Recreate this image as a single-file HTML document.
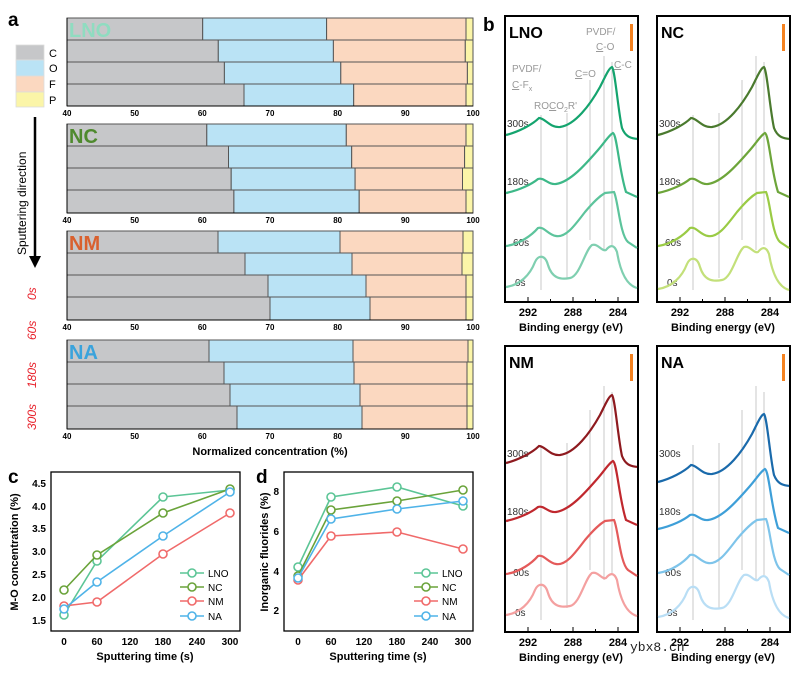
<!DOCTYPE html>
<html><head><meta charset="utf-8"><style>
html,body{margin:0;padding:0;background:#fff}
svg{display:block;font-family:"Liberation Sans",Arial,sans-serif}
</style></head><body>
<svg width="808" height="675" viewBox="0 0 808 675" xmlns="http://www.w3.org/2000/svg">
<defs>
<path id="s0" d="M506,287 C520,285 530,275 535,262 C538,255 545,254 548,265 C552,278 560,280 570,278 C580,276 585,250 592,245 C598,243 602,252 606,250 C610,245 614,244 617,252 C620,270 626,285 637,288" fill="none" stroke-width="2.2"/>
<path id="s60" d="M506,246 C520,244 532,235 538,228 C544,226 548,235 556,236 C566,238 575,225 585,212 C595,200 600,196 605,193 L614,192 C618,200 620,235 628,242 L637,248" fill="none" stroke-width="2.2"/>
<path id="s180" d="M506,193 C520,190 532,184 538,179 C544,177 548,185 556,184 C570,182 585,165 598,150 C605,142 609,135 613,133 C617,135 619,170 626,192 L637,197" fill="none" stroke-width="2.2"/>
<path id="s300" d="M506,135 C518,132 532,125 539,118 C545,118 550,128 560,127 C575,125 590,105 600,87 C606,75 609,68 612,67 C615,70 618,110 622,128 C626,138 632,138 637,139" fill="none" stroke-width="2.2"/>
</defs>

<!-- Panel a -->
<text x="8" y="26" font-size="19" font-weight="bold">a</text>
<g stroke="#ddd" stroke-width="0.8">
<rect x="16" y="45" width="28" height="15" fill="#c6c7c9"/>
<rect x="16" y="60" width="28" height="16" fill="#bae3f5"/>
<rect x="16" y="76" width="28" height="16" fill="#fbd8c0"/>
<rect x="16" y="92" width="28" height="15" fill="#fbf5a8"/>
</g>
<g font-size="11"><text x="49" y="57">C</text><text x="49" y="72">O</text><text x="49" y="88">F</text><text x="49" y="104">P</text></g>
<text transform="translate(26,255) rotate(-90)" font-size="12">Sputtering direction</text>
<line x1="35" y1="117" x2="35" y2="258" stroke="#000" stroke-width="2.5"/>
<polygon points="29,256 41,256 35,268" fill="#000"/>
<g fill="#e8202a" font-size="12" font-style="italic">
<text transform="translate(36,300) rotate(-90)">0s</text>
<text transform="translate(36,340) rotate(-90)">60s</text>
<text transform="translate(36,388) rotate(-90)">180s</text>
<text transform="translate(36,430) rotate(-90)">300s</text>
</g>

<g id="bars" stroke="#555" stroke-width="1">
<!-- block1 LNO y=18 -->
<g>
<rect x="67" y="18" width="135.7" height="22" fill="#c6c7c9"/><rect x="202.7" y="18" width="123.9" height="22" fill="#bae3f5"/><rect x="326.6" y="18" width="139.4" height="22" fill="#fbd8c0"/><rect x="466" y="18" width="7" height="22" fill="#fbf5a8"/>
<rect x="67" y="40" width="151.3" height="22" fill="#c6c7c9"/><rect x="218.3" y="40" width="115.1" height="22" fill="#bae3f5"/><rect x="333.4" y="40" width="131.9" height="22" fill="#fbd8c0"/><rect x="465.3" y="40" width="7.7" height="22" fill="#fbf5a8"/>
<rect x="67" y="62" width="157.4" height="22" fill="#c6c7c9"/><rect x="224.4" y="62" width="116.4" height="22" fill="#bae3f5"/><rect x="340.8" y="62" width="126.6" height="22" fill="#fbd8c0"/><rect x="467.4" y="62" width="5.6" height="22" fill="#fbf5a8"/>
<rect x="67" y="84" width="177" height="22" fill="#c6c7c9"/><rect x="244" y="84" width="109.7" height="22" fill="#bae3f5"/><rect x="353.7" y="84" width="112.3" height="22" fill="#fbd8c0"/><rect x="466" y="84" width="7" height="22" fill="#fbf5a8"/>
</g>
<!-- block2 NC y=124 -->
<g>
<rect x="67" y="124" width="139.8" height="22" fill="#c6c7c9"/><rect x="206.8" y="124" width="139.5" height="22" fill="#bae3f5"/><rect x="346.3" y="124" width="119.7" height="22" fill="#fbd8c0"/><rect x="466" y="124" width="7" height="22" fill="#fbf5a8"/>
<rect x="67" y="146" width="161.5" height="22" fill="#c6c7c9"/><rect x="228.5" y="146" width="123.2" height="22" fill="#bae3f5"/><rect x="351.7" y="146" width="112.9" height="22" fill="#fbd8c0"/><rect x="464.6" y="146" width="8.4" height="22" fill="#fbf5a8"/>
<rect x="67" y="168" width="164.2" height="22" fill="#c6c7c9"/><rect x="231.2" y="168" width="123.9" height="22" fill="#bae3f5"/><rect x="355.1" y="168" width="107.4" height="22" fill="#fbd8c0"/><rect x="462.5" y="168" width="10.5" height="22" fill="#fbf5a8"/>
<rect x="67" y="190" width="166.9" height="23" fill="#c6c7c9"/><rect x="233.9" y="190" width="125.3" height="23" fill="#bae3f5"/><rect x="359.2" y="190" width="106.8" height="23" fill="#fbd8c0"/><rect x="466" y="190" width="7" height="23" fill="#fbf5a8"/>
</g>
<!-- block3 NM y=231 -->
<g>
<rect x="67" y="231" width="151" height="22" fill="#c6c7c9"/><rect x="218" y="231" width="122" height="22" fill="#bae3f5"/><rect x="340" y="231" width="123" height="22" fill="#fbd8c0"/><rect x="463" y="231" width="10" height="22" fill="#fbf5a8"/>
<rect x="67" y="253" width="178" height="22" fill="#c6c7c9"/><rect x="245" y="253" width="107" height="22" fill="#bae3f5"/><rect x="352" y="253" width="110" height="22" fill="#fbd8c0"/><rect x="462" y="253" width="11" height="22" fill="#fbf5a8"/>
<rect x="67" y="275" width="201" height="22" fill="#c6c7c9"/><rect x="268" y="275" width="98" height="22" fill="#bae3f5"/><rect x="366" y="275" width="100" height="22" fill="#fbd8c0"/><rect x="466" y="275" width="7" height="22" fill="#fbf5a8"/>
<rect x="67" y="297" width="203" height="23" fill="#c6c7c9"/><rect x="270" y="297" width="100" height="23" fill="#bae3f5"/><rect x="370" y="297" width="96" height="23" fill="#fbd8c0"/><rect x="466" y="297" width="7" height="23" fill="#fbf5a8"/>
</g>
<!-- block4 NA y=340 -->
<g>
<rect x="67" y="340" width="142" height="22" fill="#c6c7c9"/><rect x="209" y="340" width="144" height="22" fill="#bae3f5"/><rect x="353" y="340" width="115" height="22" fill="#fbd8c0"/><rect x="468" y="340" width="5" height="22" fill="#fbf5a8"/>
<rect x="67" y="362" width="157" height="22" fill="#c6c7c9"/><rect x="224" y="362" width="130" height="22" fill="#bae3f5"/><rect x="354" y="362" width="113" height="22" fill="#fbd8c0"/><rect x="467" y="362" width="6" height="22" fill="#fbf5a8"/>
<rect x="67" y="384" width="163" height="22" fill="#c6c7c9"/><rect x="230" y="384" width="130" height="22" fill="#bae3f5"/><rect x="360" y="384" width="107" height="22" fill="#fbd8c0"/><rect x="467" y="384" width="6" height="22" fill="#fbf5a8"/>
<rect x="67" y="406" width="170" height="23" fill="#c6c7c9"/><rect x="237" y="406" width="125" height="23" fill="#bae3f5"/><rect x="362" y="406" width="105" height="23" fill="#fbd8c0"/><rect x="467" y="406" width="6" height="23" fill="#fbf5a8"/>
</g>
</g>
<g font-size="20" font-weight="bold">
<text x="69" y="37" fill="#8fdcc0">LNO</text>
<text x="69" y="143" fill="#4f8a2e">NC</text>
<text x="69" y="250" fill="#d9602e">NM</text>
<text x="69" y="359" fill="#3aa3dc">NA</text>
</g>
<!-- bar axes -->
<g stroke="#000" stroke-width="1">
<line x1="67" y1="18" x2="67" y2="106"/><line x1="67" y1="106" x2="473" y2="106"/>
<line x1="67" y1="124" x2="67" y2="213"/><line x1="67" y1="213" x2="473" y2="213"/>
<line x1="67" y1="231" x2="67" y2="320"/><line x1="67" y1="320" x2="473" y2="320"/>
<line x1="67" y1="340" x2="67" y2="429"/><line x1="67" y1="429" x2="473" y2="429"/>
</g>
<g font-size="8" font-weight="bold" text-anchor="middle">
<g id="tl1"><text x="67" y="116">40</text><text x="134.7" y="116">50</text><text x="202.3" y="116">60</text><text x="270" y="116">70</text><text x="337.7" y="116">80</text><text x="405.3" y="116">90</text><text x="473" y="116">100</text></g>
<use href="#tl1" y="107"/><use href="#tl1" y="214"/><use href="#tl1" y="323"/>
</g>
<text x="270" y="455" font-size="11" font-weight="bold" text-anchor="middle">Normalized concentration (%)</text>

<!-- Panel c -->
<text x="8" y="483" font-size="19" font-weight="bold">c</text>
<rect x="51" y="472" width="189" height="159" fill="none" stroke="#000" stroke-width="1.3"/>
<g font-size="10" font-weight="bold" text-anchor="end">
<text x="46" y="487">4.5</text><text x="46" y="510">4.0</text><text x="46" y="532">3.5</text><text x="46" y="555">3.0</text><text x="46" y="578">2.5</text><text x="46" y="601">2.0</text><text x="46" y="624">1.5</text>
</g>
<g font-size="10" font-weight="bold" text-anchor="middle">
<text x="64" y="645">0</text><text x="97" y="645">60</text><text x="130" y="645">120</text><text x="163" y="645">180</text><text x="197" y="645">240</text><text x="230" y="645">300</text>
</g>
<text x="145" y="660" font-size="11" font-weight="bold" text-anchor="middle">Sputtering time (s)</text>
<text transform="translate(18,552) rotate(-90)" font-size="11" font-weight="bold" text-anchor="middle">M-O concentration (%)</text>
<g fill="#fff" stroke-width="1.6">
<g stroke="#5cc596"><polyline fill="none" points="64,615 97,561 163,497 230,490"/><circle cx="64" cy="615" r="4"/><circle cx="97" cy="561" r="4"/><circle cx="163" cy="497" r="4"/><circle cx="230" cy="490" r="4"/></g>
<g stroke="#6aa33a"><polyline fill="none" points="64,590 97,555 163,513 230,489"/><circle cx="64" cy="590" r="4"/><circle cx="97" cy="555" r="4"/><circle cx="163" cy="513" r="4"/><circle cx="230" cy="489" r="4"/></g>
<g stroke="#f06a6a"><polyline fill="none" points="64,606 97,602 163,554 230,513"/><circle cx="64" cy="606" r="4"/><circle cx="97" cy="602" r="4"/><circle cx="163" cy="554" r="4"/><circle cx="230" cy="513" r="4"/></g>
<g stroke="#4fb3e8"><polyline fill="none" points="64,609 97,582 163,536 230,492"/><circle cx="64" cy="609" r="4"/><circle cx="97" cy="582" r="4"/><circle cx="163" cy="536" r="4"/><circle cx="230" cy="492" r="4"/></g>
<g stroke="#5cc596"><line x1="180" y1="573" x2="204" y2="573"/><circle cx="192" cy="573" r="4"/></g>
<g stroke="#6aa33a"><line x1="180" y1="587" x2="204" y2="587"/><circle cx="192" cy="587" r="4"/></g>
<g stroke="#f06a6a"><line x1="180" y1="601" x2="204" y2="601"/><circle cx="192" cy="601" r="4"/></g>
<g stroke="#4fb3e8"><line x1="180" y1="616" x2="204" y2="616"/><circle cx="192" cy="616" r="4"/></g>
</g>
<g font-size="10"><text x="208" y="577">LNO</text><text x="208" y="591">NC</text><text x="208" y="605">NM</text><text x="208" y="620">NA</text></g>

<!-- Panel d -->
<text x="256" y="483" font-size="19" font-weight="bold">d</text>
<rect x="284" y="472" width="189" height="159" fill="none" stroke="#000" stroke-width="1.3"/>
<g font-size="10" font-weight="bold" text-anchor="end">
<text x="279" y="495">8</text><text x="279" y="535">6</text><text x="279" y="575">4</text><text x="279" y="614">2</text>
</g>
<g font-size="10" font-weight="bold" text-anchor="middle">
<text x="298" y="645">0</text><text x="331" y="645">60</text><text x="364" y="645">120</text><text x="397" y="645">180</text><text x="430" y="645">240</text><text x="463" y="645">300</text>
</g>
<text x="378" y="660" font-size="11" font-weight="bold" text-anchor="middle">Sputtering time (s)</text>
<text transform="translate(268,552) rotate(-90)" font-size="11" font-weight="bold" text-anchor="middle">Inorganic fluorides (%)</text>
<g fill="#fff" stroke-width="1.6">
<g stroke="#5cc596"><polyline fill="none" points="298,567 331,497 397,487 463,506"/><circle cx="298" cy="567" r="4"/><circle cx="331" cy="497" r="4"/><circle cx="397" cy="487" r="4"/><circle cx="463" cy="506" r="4"/></g>
<g stroke="#6aa33a"><polyline fill="none" points="298,576 331,510 397,501 463,490"/><circle cx="298" cy="576" r="4"/><circle cx="331" cy="510" r="4"/><circle cx="397" cy="501" r="4"/><circle cx="463" cy="490" r="4"/></g>
<g stroke="#f06a6a"><polyline fill="none" points="298,580 331,536 397,532 463,549"/><circle cx="298" cy="580" r="4"/><circle cx="331" cy="536" r="4"/><circle cx="397" cy="532" r="4"/><circle cx="463" cy="549" r="4"/></g>
<g stroke="#4fb3e8"><polyline fill="none" points="298,578 331,519 397,509 463,501"/><circle cx="298" cy="578" r="4"/><circle cx="331" cy="519" r="4"/><circle cx="397" cy="509" r="4"/><circle cx="463" cy="501" r="4"/></g>
<g stroke="#5cc596"><line x1="414" y1="573" x2="438" y2="573"/><circle cx="426" cy="573" r="4"/></g>
<g stroke="#6aa33a"><line x1="414" y1="587" x2="438" y2="587"/><circle cx="426" cy="587" r="4"/></g>
<g stroke="#f06a6a"><line x1="414" y1="601" x2="438" y2="601"/><circle cx="426" cy="601" r="4"/></g>
<g stroke="#4fb3e8"><line x1="414" y1="616" x2="438" y2="616"/><circle cx="426" cy="616" r="4"/></g>
</g>
<g font-size="10"><text x="442" y="577">LNO</text><text x="442" y="591">NC</text><text x="442" y="605">NM</text><text x="442" y="620">NA</text></g>

<!-- Panel b -->
<text x="483" y="31" font-size="19" font-weight="bold">b</text>
<g id="frame">
<g stroke="#bbb" stroke-width="0.8">
<line x1="541" y1="115" x2="541" y2="290"/><line x1="567" y1="113" x2="567" y2="278"/><line x1="590" y1="80" x2="590" y2="240"/><line x1="604" y1="56" x2="604" y2="250"/><line x1="612" y1="62" x2="612" y2="245"/>
</g>
<rect x="505" y="16" width="133" height="286" fill="none" stroke="#000" stroke-width="2"/>
<g stroke="#000" stroke-width="1"><line x1="528" y1="302" x2="528" y2="297"/><line x1="550.5" y1="302" x2="550.5" y2="299"/><line x1="573" y1="302" x2="573" y2="297"/><line x1="595.5" y1="302" x2="595.5" y2="299"/><line x1="618" y1="302" x2="618" y2="297"/></g>
<g font-size="11" font-weight="bold" text-anchor="middle"><text x="528" y="316">292</text><text x="573" y="316">288</text><text x="618" y="316">284</text>
<text x="571" y="331">Binding energy (eV)</text></g>
<rect x="630" y="24" width="3" height="27" fill="#f58220"/>
<g font-size="10" fill="#333"><text x="507" y="127">300s</text><text x="507" y="185">180s</text><text x="513" y="246">60s</text><text x="515" y="286">0s</text></g>
</g>
<use href="#frame" x="152"/>
<use href="#frame" y="330"/>
<use href="#frame" x="152" y="330"/>
<g font-size="16" font-weight="bold">
<text x="509" y="38">LNO</text><text x="661" y="38">NC</text><text x="509" y="368">NM</text><text x="661" y="368">NA</text>
</g>
<g font-size="10" fill="#999">
<text x="586" y="35">PVDF/</text><text x="596" y="50"><tspan text-decoration="underline">C</tspan>-O</text>
<text x="512" y="72">PVDF/</text><text x="512" y="88"><tspan text-decoration="underline">C</tspan>-F<tspan font-size="7" dy="3">x</tspan></text>
<text x="534" y="109">RO<tspan text-decoration="underline">C</tspan>O<tspan font-size="7" dy="3">2</tspan><tspan dy="-3">R'</tspan></text>
<text x="575" y="77"><tspan text-decoration="underline">C</tspan>=O</text>
<text x="614" y="68"><tspan text-decoration="underline">C</tspan>-C</text>
</g>
<!-- spectra -->
<use href="#s0" stroke="#7fcfb0"/><use href="#s60" stroke="#5dc49c"/><use href="#s180" stroke="#3db888"/><use href="#s300" stroke="#14a46e"/>
<use href="#s0" x="152" y="2" stroke="#c3e07a"/><use href="#s60" x="152" stroke="#9acb45"/><use href="#s180" x="152" stroke="#6da53a"/><use href="#s300" x="152" stroke="#4a7a2e"/>
<use href="#s0" y="328" stroke="#f4a0a0"/><use href="#s60" y="328" stroke="#e45a5a"/><use href="#s180" y="328" stroke="#c0282e"/><use href="#s300" y="328" stroke="#8e1a1f"/>
<use href="#s0" x="152" y="330" stroke="#b9def5"/><use href="#s60" x="152" y="327" stroke="#7ec4ea"/><use href="#s180" x="152" y="336" stroke="#3e9fd8"/><use href="#s300" x="152" y="347" stroke="#1a6aab"/>
<text x="630" y="651" font-size="13" fill="#222" font-family="Liberation Mono,monospace">ybx8.cn</text>
</svg>
</body></html>
